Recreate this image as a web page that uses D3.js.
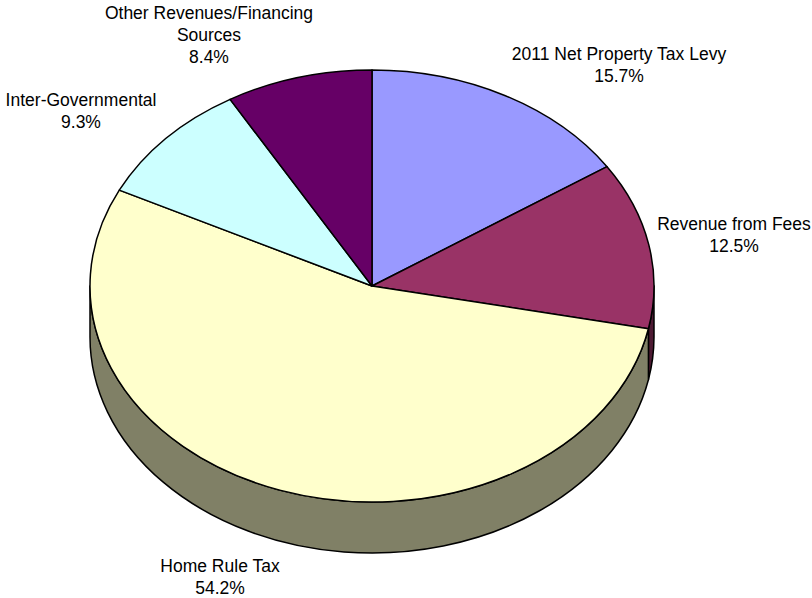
<!DOCTYPE html>
<html>
<head>
<meta charset="utf-8">
<script src="https://cdn.jsdelivr.net/npm/d3@7"></script>
<style>
  html, body { margin: 0; padding: 0; background: #fff; }
  svg { display: block; }
  text { font-family: "Liberation Sans", Arial, sans-serif; font-size: 17.5px; fill: #000; }
</style>
</head>
<body>
<div id="chart"></div>
<script>
// Revenue sources (percent of total)
const categories = [
  "2011 Net Property Tax Levy",
  "Revenue from Fees",
  "Home Rule Tax",
  "Inter-Governmental",
  "Other Revenues/Financing Sources"
];
const values = [15.7, 12.5, 54.2, 9.3, 8.4];
const colors = ["#9999FF", "#993366", "#FFFFCC", "#CCFFFF", "#660066"];

// Label block anchors: centre x and first baseline y
const labelAnchors = [
  [619, 60],
  [734, 230],
  [220, 572],
  [81, 106],
  [209, 19]
];

const width = 812, height = 598;
const cx = 372, cy = 286;       // centre of the top face
const rx = 282, ry = 216;       // ellipse radii of the tilted disc
const depth = 51;               // thickness of the disc
const lineGap = 22;

const svg = d3.select("#chart").append("svg")
  .attr("width", width).attr("height", height);

const pie = d3.pie().sort(null).value(d => d.value);
const data = categories.map((c, i) => ({ name: c, value: values[i], color: colors[i] }));
const arcs = pie(data);

const shade = c => { const k = d3.rgb(c); return d3.rgb(k.r * 0.5, k.g * 0.5, k.b * 0.5).formatHex(); };

// point on the top ellipse for an angle measured clockwise from 12 o'clock
const px = a => cx + rx * Math.sin(a);
const py = (a, dz = 0) => cy - ry * Math.cos(a) + dz;

// --- side walls (only the front half of the disc is visible) ---
const front0 = Math.PI / 2, front1 = 3 * Math.PI / 2;
const sides = svg.append("g");
arcs.forEach(d => {
  const s = Math.max(d.startAngle, front0);
  const e = Math.min(d.endAngle, front1);
  if (e <= s) return;
  const large = (e - s) > Math.PI ? 1 : 0;
  const p = d3.path();
  p.moveTo(px(s), py(s));
  const topArc = `A${rx},${ry} 0 ${large} 1 ${px(e)},${py(e)}`;
  const botArc = `A${rx},${ry} 0 ${large} 0 ${px(s)},${py(s, depth)}`;
  const path = `M${px(s)},${py(s)}${topArc}L${px(e)},${py(e, depth)}${botArc}Z`;
  sides.append("path")
    .attr("d", path)
    .attr("fill", shade(d.data.color))
    .attr("stroke", "#000")
    .attr("stroke-width", 1.5)
    .attr("stroke-linejoin", "round");
});

// --- top face: circular arcs squashed into the ellipse ---
const arcGen = d3.arc().innerRadius(0).outerRadius(rx);
svg.append("g")
  .attr("transform", `translate(${cx},${cy}) scale(1,${ry / rx})`)
  .selectAll("path")
  .data(arcs)
  .join("path")
  .attr("d", arcGen)
  .attr("fill", d => d.data.color)
  .attr("stroke", "#000")
  .attr("stroke-width", 1.5)
  .attr("stroke-linejoin", "round")
  .attr("vector-effect", "non-scaling-stroke");

// --- labels: category name (wrapped) and percentage ---
const fmt = d3.format(".1%");
const total = d3.sum(values);
const measure = svg.append("text").attr("visibility", "hidden");
function wrap(str, maxW) {
  const words = str.split(" ");
  const lines = [];
  let cur = "";
  words.forEach(w => {
    const t = cur ? cur + " " + w : w;
    measure.text(t);
    if (measure.node().getComputedTextLength() > maxW && cur) {
      lines.push(cur);
      cur = w;
    } else cur = t;
  });
  if (cur) lines.push(cur);
  return lines;
}

const labels = svg.append("g");
arcs.forEach((d, i) => {
  const [lx, ly] = labelAnchors[i];
  const lines = wrap(d.data.name, 225).concat([fmt(d.data.value / 100)]);
  const t = labels.append("text").attr("text-anchor", "middle");
  lines.forEach((ln, j) => {
    t.append("tspan").attr("x", lx).attr("y", ly + j * lineGap).text(ln);
  });
});
measure.remove();
</script>
</body>
</html>
